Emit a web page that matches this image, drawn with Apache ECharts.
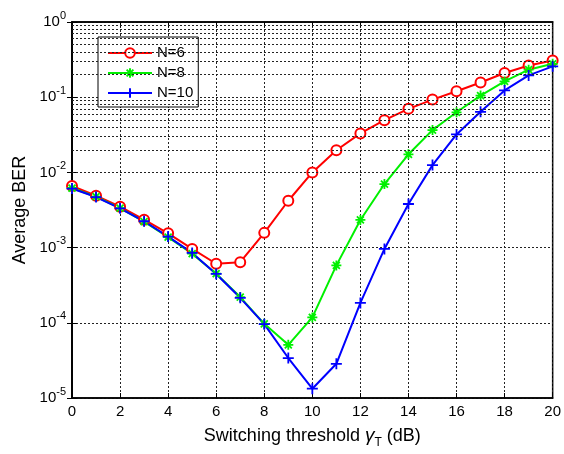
<!DOCTYPE html>
<html>
<head>
<meta charset="utf-8">
<script src="https://cdn.jsdelivr.net/npm/echarts@6/dist/echarts.min.js"></script>
<style>html,body{margin:0;padding:0;background:#fff}#c{width:564px;height:454px}</style>
</head>
<body>
<div id="c"></div>
<script>
const xValues = [0,1,2,3,4,5,6,7,8,9,10,11,12,13,14,15,16,17,18,19,20];
const seriesNames = ['N=6','N=8','N=10'];
const berN6 = [6.6e-3,4.9e-3,3.5e-3,2.35e-3,1.55e-3,9.6e-4,6.1e-4,6.4e-4,1.57e-3,4.2e-3,1.0e-2,1.97e-2,3.3e-2,4.95e-2,7.0e-2,9.3e-2,0.12,0.157,0.21,0.264,0.308];
const berN8 = [6.2e-3,4.75e-3,3.35e-3,2.22e-3,1.38e-3,8.3e-4,4.5e-4,2.2e-4,9.7e-5,5.1e-5,1.18e-4,5.8e-4,2.33e-3,7.0e-3,1.74e-2,3.65e-2,6.3e-2,0.105,0.162,0.232,0.278];
const berN10 = [6.1e-3,4.7e-3,3.33e-3,2.24e-3,1.4e-3,8.5e-4,4.46e-4,2.15e-4,9.6e-5,3.4e-5,1.33e-5,2.85e-5,1.84e-4,9.6e-4,3.8e-3,1.25e-2,3.2e-2,6.4e-2,0.123,0.195,0.257];
const yMin = 1e-5, yMax = 1;
const minorMantissas = [2,3,4,5,6,7,8,9];
const decades = [-5,-4,-3,-2,-1];

const FONT = 'Liberation Sans, Arial, Helvetica, sans-serif';
const minorLines = [];
decades.forEach(e => minorMantissas.forEach(m => minorLines.push({yAxis: m * Math.pow(10, e)})));

const gridLine = {show: true, lineStyle: {color: '#222', width: 1, type: [2, 2]}};

const plusPath = 'path://M0,-10L0,10M-10,0L10,0';
const starPath = 'path://M0,-10L0,10M-10,0L10,0M-7,-7L7,7M-7,7L7,-7';

function mk(name, data, color, symbol, size) {
  return {
    name: name, type: 'line', data: xValues.map((x, i) => [x, data[i]]),
    symbol: symbol, symbolSize: size, showSymbol: true,
    lineStyle: {color: color, width: 2},
    itemStyle: {color: color, borderColor: color, borderWidth: 1.8},
    emphasis: {disabled: true}, animation: false, z: 3
  };
}

const series = [
  mk(seriesNames[0], berN6, '#ff0000', 'emptyCircle', 10),
  mk(seriesNames[1], berN8, '#00f000', starPath, 10),
  mk(seriesNames[2], berN10, '#0000ff', plusPath, 11)
];
series.push({
  type: 'line', data: [], silent: true, animation: false, z: 1,
  markLine: {silent: true, symbol: 'none', animation: false, label: {show: false},
    lineStyle: {color: '#222', width: 1, type: [2, 2]}, data: minorLines}
});

const chart = echarts.init(document.getElementById('c'), null, {renderer: 'canvas'});
chart.setOption({
  backgroundColor: '#fff',
  animation: false,
  textStyle: {fontFamily: FONT},
  grid: {left: 72, right: 10, top: 22, bottom: 54, show: true, borderColor: '#000', borderWidth: 1.5, backgroundColor: 'transparent'},
  legend: {
    data: seriesNames, orient: 'vertical', left: 98, top: 37,
    itemWidth: 44, itemHeight: 12, itemGap: 4,
    padding: [8, 5, 6, 9],
    backgroundColor: '#fff', borderColor: '#000', borderWidth: 1,
    textStyle: {fontFamily: FONT, fontSize: 15, color: '#000', lineHeight: 16}
  },
  xAxis: [{
    type: 'value', min: 0, max: 20, interval: 2,
    name: '{n|Switching threshold }{g|γ}{sub|T}{n| (dB)}',
    nameLocation: 'middle', nameGap: 25,
    nameTextStyle: {rich: {
      n: {fontFamily: FONT, fontSize: 18, color: '#000', lineHeight: 26},
      g: {fontFamily: FONT, fontSize: 19, fontStyle: 'italic', color: '#000', lineHeight: 26},
      sub: {fontFamily: FONT, fontSize: 12, color: '#000', lineHeight: 16, verticalAlign: 'bottom'}
    }},
    axisLine: {show: true, lineStyle: {color: '#000', width: 1.5}},
    axisTick: {show: true, inside: true, length: 5, lineStyle: {color: '#000'}},
    axisLabel: {color: '#000', fontSize: 15, fontFamily: FONT, margin: 6},
    splitLine: gridLine
  }, {
    type: 'value', min: 0, max: 20, interval: 2, position: 'top',
    axisLine: {show: true, lineStyle: {color: '#000', width: 1.5}},
    axisTick: {show: true, inside: true, length: 5, lineStyle: {color: '#000'}},
    axisLabel: {show: false}, splitLine: {show: false}
  }],
  yAxis: [{
    type: 'log', logBase: 10, min: yMin, max: yMax,
    name: 'Average BER', nameLocation: 'middle', nameGap: 42,
    nameTextStyle: {fontFamily: FONT, fontSize: 18, color: '#000'},
    axisLine: {show: true, lineStyle: {color: '#000', width: 1.5}},
    axisTick: {show: true, inside: true, length: 5, lineStyle: {color: '#000'}},
    axisLabel: {
      color: '#000', margin: 6,
      formatter: v => '{b|10}{s|' + Math.round(Math.log10(v)) + '}',
      rich: {
        b: {fontFamily: FONT, fontSize: 15, color: '#000', lineHeight: 24},
        s: {fontFamily: FONT, fontSize: 11, color: '#000', lineHeight: 10, verticalAlign: 'top'}
      }
    },
    splitLine: gridLine
  }, {
    type: 'log', logBase: 10, min: yMin, max: yMax, position: 'right',
    axisLine: {show: true, lineStyle: {color: '#000', width: 1.5}},
    axisTick: {show: true, inside: true, length: 5, lineStyle: {color: '#000'}},
    axisLabel: {show: false}, splitLine: {show: false}
  }],
  series: series
});
</script>
</body>
</html>
